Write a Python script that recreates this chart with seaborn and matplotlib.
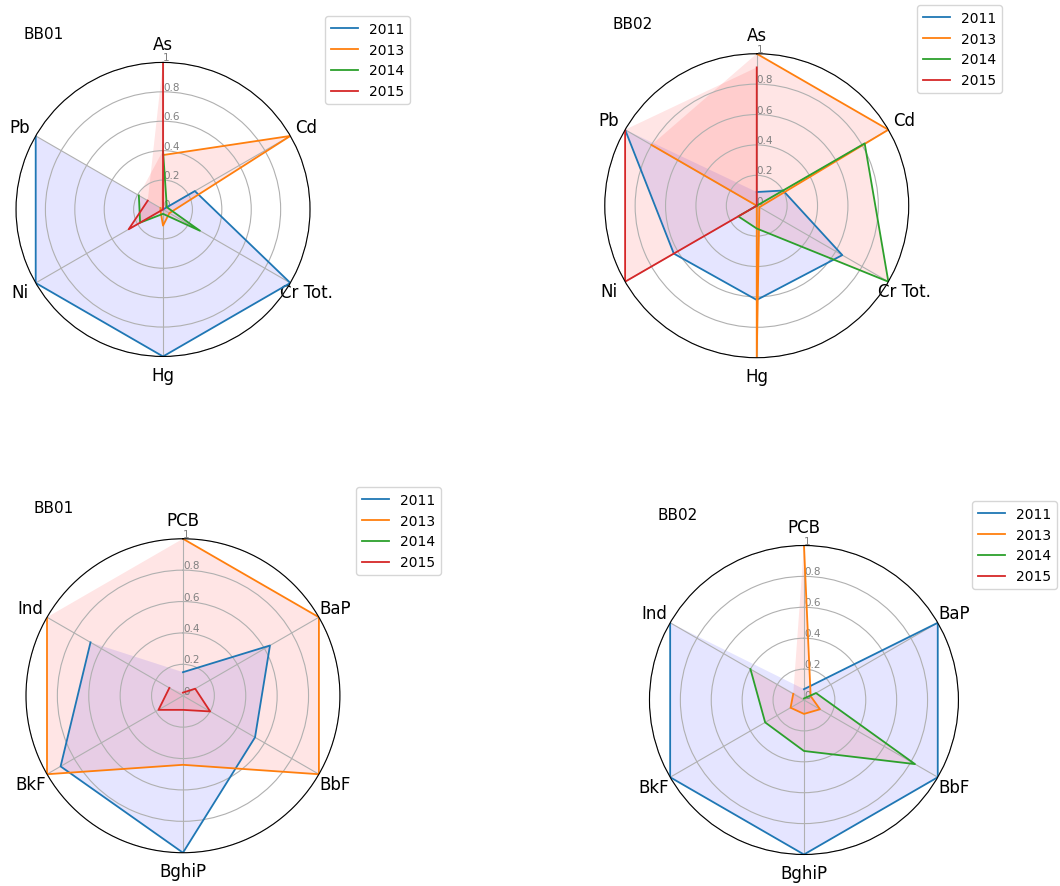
# Radar charts of normalised concentrations, stations BB01 / BB02
import numpy as np
import matplotlib
matplotlib.use("Agg")
from matplotlib import pyplot as plt
import seaborn as sns

years = ["2011", "2013", "2014", "2015"]
metals = ["As", "Cd", "Cr Tot.", "Hg", "Ni", "Pb"]
pahs = ["PCB", "BaP", "BbF", "BghiP", "BkF", "Ind"]
rticks = [0, 0.2, 0.4, 0.6, 0.8, 1]
rtick_labels = ["0", "0.2", "0.4", "0.6", "0.8", "1"]

# one row per year (2011, 2013, 2014, 2015), values in category order
bb01_metals = [[0.0, 0.25, 1.0, 1.0, 1.0, 1.0],
               [0.37, 1.0, 0.05, 0.11, 0.02, 0.02],
               [0.40, 0.03, 0.29, 0.03, 0.18, 0.19],
               [1.0, 0.0, 0.0, 0.0, 0.27, 0.12]]
bb02_metals = [[0.09, 0.20, 0.65, 0.62, 0.63, 1.0],
               [1.0, 1.0, 0.02, 1.0, 0.0, 0.80],
               [0.0, 0.82, 1.0, 0.15, 0.14, 0.0],
               [0.91, 0.0, 0.0, 0.0, 1.0, 1.0]]
bb01_pahs = [[0.15, 0.64, 0.53, 1.0, 0.90, 0.68],
             [1.0, 1.0, 1.0, 0.44, 1.0, 1.0],
             [0.0, 0.0, 0.0, 0.0, 0.0, 0.0],
             [0.02, 0.09, 0.20, 0.09, 0.18, 0.10]]
bb02_pahs = [[0.07, 1.0, 1.0, 1.0, 1.0, 1.0],
             [1.0, 0.05, 0.12, 0.09, 0.10, 0.08],
             [0.01, 0.09, 0.83, 0.33, 0.29, 0.40],
             [0.0, 0.0, 0.0, 0.0, 0.0, 0.0]]

pal = sns.color_palette("tab10", 4)

fig = plt.figure(figsize=(10.6, 8.87), dpi=100)

panels = [
    ("BB01", metals, bb01_metals, [0.0151, 0.597, 0.2774, 0.3315], (0.3066, 0.9808)),
    ("BB02", metals, bb02_metals, [0.5705, 0.5956, 0.2868, 0.3427], (0.8651, 0.9932)),
    ("BB01", pahs, bb01_pahs, [0.0245, 0.0375, 0.2962, 0.354], (0.3358, 0.4498)),
    ("BB02", pahs, bb02_pahs, [0.6127, 0.0355, 0.2915, 0.3484], (0.917, 0.434)),
]

for name, cats, rows, rect, leg_pos in panels:
    ax = fig.add_axes(rect, polar=True)
    n = len(cats)
    angles = np.linspace(0, 2 * np.pi, n, endpoint=False)
    closed = np.append(angles, angles[0])

    ax.set_theta_offset(np.pi / 2)
    ax.set_theta_direction(-1)

    for i, yr in enumerate(years):
        vals = np.append(rows[i], rows[i][0])
        sns.lineplot(x=closed, y=vals, ax=ax, sort=False, color=pal[i],
                     linewidth=1.3, label=yr)
        ax.fill(closed, vals, "b" if i == 0 else "r", alpha=0.1)

    ax.set_xticks(angles)
    ax.set_xticklabels(cats, fontsize=12)
    ax.tick_params(axis="x", pad=3)
    ax.set_rlabel_position(0)
    ax.set_yticks(rticks)
    ax.set_yticklabels(rtick_labels, color="grey", size=7.5)
    ax.set_ylim(0, 1)
    ax.set_xlabel("")
    ax.set_ylabel("")

    ax.text(0.025, 1.1, name, transform=ax.transAxes, fontsize=11,
            ha="left", va="center")
    ax.legend(loc="upper left", bbox_to_anchor=leg_pos,
              bbox_transform=fig.transFigure, borderaxespad=0, fontsize=10)

plt.savefig("out.png", dpi=100)
